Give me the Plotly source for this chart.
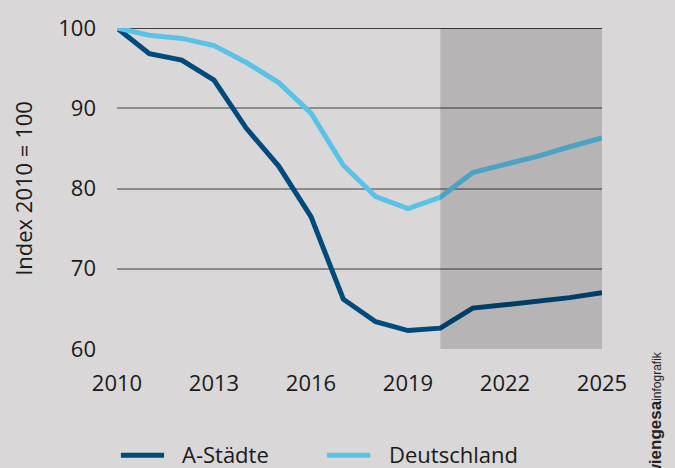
import plotly.graph_objects as go

years = list(range(2010, 2026))
a_staedte = [100, 96.8, 96.0, 93.5, 87.5, 82.8, 76.5, 66.2, 63.4, 62.3, 62.6, 65.1, 65.5, 65.9, 66.4, 67.0]
deutschland = [100, 99.1, 98.7, 97.8, 95.7, 93.2, 89.4, 82.9, 79.0, 77.5, 78.9, 82.0, 83.0, 84.0, 85.2, 86.3]
series_names = ["A-Städte", "Deutschland"]
series_colors = ["#004a7c", "#5bc2e7"]
x_ticks = [2010, 2013, 2016, 2019, 2022, 2025]
y_ticks = [60, 70, 80, 90, 100]
forecast_start, forecast_end = 2020, 2025

BG = "#d9d7d8"
TXT = "#1a1a1a"
FONT = "Open Sans"
FS = 22

fig = go.Figure()
for name, vals, col in zip(series_names, [a_staedte, deutschland], series_colors):
    fig.add_trace(go.Scatter(x=years, y=vals, name=name, mode="lines",
                             line=dict(color=col, width=5), cliponaxis=False,
                             showlegend=False, hoverinfo="skip"))

# forecast shading (overlay)
fig.add_shape(type="rect", xref="x", yref="y", x0=forecast_start, x1=forecast_end,
              y0=60, y1=100, fillcolor="rgba(0,0,0,0.16)", line_width=0, layer="above")
# top line at 100
fig.add_shape(type="line", xref="paper", yref="y", x0=0, x1=1, y0=100, y1=100,
              line=dict(color="#111111", width=1.5), layer="below")

# manual legend
leg_y = -0.328
legend_items = [(0.008, 0.097, 0.130), (0.433, 0.522, 0.557)]
for (lx0, lx1, tx), name, col in zip(legend_items, series_names, series_colors):
    fig.add_shape(type="line", xref="paper", yref="paper", x0=lx0, x1=lx1, y0=-0.331, y1=-0.331,
                  line=dict(color=col, width=5))
    fig.add_annotation(xref="paper", yref="paper", x=tx, y=leg_y, text=name, showarrow=False,
                       xanchor="left", yanchor="middle", font=dict(size=FS, color=TXT, family=FONT))

# watermark
fig.add_annotation(xref="paper", yref="paper", x=1.109, y=0.0,
                   text="<span style='font-size:17px'><b>bulwiengesa</b></span>infografik",
                   textangle=-90, showarrow=False, xanchor="center", yanchor="top",
                   font=dict(size=12, color="#222222", family="Liberation Sans"))

fig.update_layout(
    width=675, height=468,
    margin=dict(l=117, r=73, t=23, b=119),
    paper_bgcolor=BG, plot_bgcolor=BG,
    font=dict(family=FONT, size=FS, color=TXT),
    showlegend=False,
    xaxis=dict(range=[2010, 2025], tickvals=x_ticks, showgrid=False, zeroline=False,
               showline=False, ticks="", ticklabelstandoff=19,
               tickfont=dict(size=FS, color=TXT), fixedrange=True),
    yaxis=dict(range=[60, 100], tickvals=y_ticks, showgrid=True, gridcolor="#8c8c8c",
               gridwidth=1.5, zeroline=False, showline=False, ticks="",
               ticklabelstandoff=20, tickfont=dict(size=FS, color=TXT), fixedrange=True,
               title=dict(text="Index 2010 = 100", font=dict(size=FS, color=TXT), standoff=19)),
)

fig.write_html("out.html", config={"displayModeBar": False},
               post_script="document.body.style.margin='0px';document.body.style.overflow='hidden';")
